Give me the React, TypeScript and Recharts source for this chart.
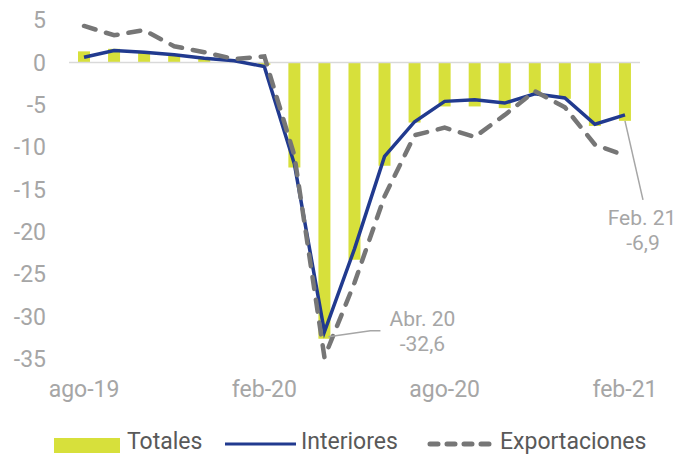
import {
    ComposedChart,
    Bar,
    Line,
    XAxis,
    YAxis,
    ReferenceLine,
    ReferenceDot,
} from "recharts";

const meses = [
    "ago-19", "sep-19", "oct-19", "nov-19", "dic-19", "ene-20", "feb-20",
    "mar-20", "abr-20", "may-20", "jun-20", "jul-20", "ago-20", "sep-20",
    "oct-20", "nov-20", "dic-20", "ene-21", "feb-21",
];
const totales = [1.3, 1.6, 1.2, 0.9, 0.5, 0.1, -0.3, -12.4, -32.6, -23.3, -12.2, -7.1, -5.2, -5.2, -5.4, -3.6, -4.3, -7.5, -6.9];
const interiores = [0.6, 1.4, 1.2, 0.9, 0.5, 0.2, -0.5, -12.0, -31.8, -22.0, -11.1, -7.0, -4.6, -4.4, -4.8, -3.7, -4.2, -7.3, -6.2];
const exportaciones = [4.3, 3.2, 3.8, 1.9, 1.2, 0.4, 0.7, -11.0, -34.8, -26.0, -15.8, -8.6, -7.7, -8.8, -6.2, -3.4, -5.3, -9.7, -11.0];
const yTicks = [5, 0, -5, -10, -15, -20, -25, -30, -35];

const data = meses.map((mes, i) => ({
    mes,
    totales: totales[i],
    interiores: interiores[i],
    exportaciones: exportaciones[i],
}));

const GRIS = "#a6a6a6";
const AMARILLO = "#d7e03b";
const AZUL = "#213a8f";
const GRIS_OSC = "#767676";
const FONT = "Roboto, sans-serif";

// anotación de abril 2020: texto a la derecha del mínimo
const NotaAbr = (props: any) => {
    const { cx, cy } = props;
    return (
        <g>
            <polyline
                points={`${cx + 4},${cy - 2} ${cx + 46},${cy - 8} ${cx + 56},${cy - 8}`}
                fill="none"
                stroke={GRIS}
                strokeWidth={1.5}
            />
            <text x={cx + 98} y={cy - 20} dy="0.35em" textAnchor="middle" fill={GRIS} fontSize={21} fontFamily={FONT}>
                Abr. 20
            </text>
            <text x={cx + 98} y={cy + 5} dy="0.35em" textAnchor="middle" fill={GRIS} fontSize={21} fontFamily={FONT}>
                -32,6
            </text>
        </g>
    );
};

// anotación de febrero 2021: texto debajo de la barra
const NotaFeb = (props: any) => {
    const { cx, cy } = props;
    return (
        <g>
            <line x1={cx} y1={cy} x2={cx + 18} y2={cy + 79} stroke={GRIS} strokeWidth={1.5} />
            <text x={cx + 17} y={cy + 97} dy="0.35em" textAnchor="middle" fill={GRIS} fontSize={21} fontFamily={FONT}>
                Feb. 21
            </text>
            <text x={cx + 18} y={cy + 122} dy="0.35em" textAnchor="middle" fill={GRIS} fontSize={21} fontFamily={FONT}>
                -6,9
            </text>
        </g>
    );
};

export default function App() {
    return (
        <div style={{ position: "absolute", left: 0, top: 0, width: 677, height: 455, fontFamily: FONT }}>
            <ComposedChart
                width={677}
                height={455}
                data={data}
                margin={{ top: 20, right: 37, left: 0, bottom: 56 }}
            >
                <XAxis
                    dataKey="mes"
                    interval={5}
                    axisLine={false}
                    tickLine={false}
                    tickSize={0}
                    tickMargin={22}
                    height={40}
                    tick={{ fill: GRIS, fontSize: 23, fontFamily: FONT }}
                />
                <YAxis
                    domain={[-35, 5]}
                    ticks={yTicks}
                    axisLine={false}
                    tickLine={false}
                    tickSize={0}
                    tickMargin={23}
                    width={69}
                    tick={{ fill: GRIS, fontSize: 23, fontFamily: FONT }}
                />
                <ReferenceLine y={0} stroke="#d9d9d9" strokeWidth={1.5} />
                <Bar dataKey="totales" fill={AMARILLO} barSize={12} isAnimationActive={false} />
                <Line
                    dataKey="interiores"
                    stroke={AZUL}
                    strokeWidth={3.5}
                    dot={false}
                    type="linear"
                    isAnimationActive={false}
                />
                <Line
                    dataKey="exportaciones"
                    stroke={GRIS_OSC}
                    strokeWidth={4.5}
                    strokeDasharray="12 11"
                    strokeLinecap="round"
                    dot={false}
                    type="linear"
                    isAnimationActive={false}
                />
                <ReferenceDot x={meses[8]} y={totales[8]} r={0} shape={NotaAbr} />
                <ReferenceDot x={meses[18]} y={totales[18]} r={0} shape={NotaFeb} />
            </ComposedChart>

            {/* Leyenda */}
            <div style={{ position: "absolute", left: 0, top: 425, width: 677, height: 30 }}>
                <svg width={677} height={30} style={{ position: "absolute", left: 0, top: 0 }}>
                    <rect x={54} y={13} width={66} height={15} fill={AMARILLO} />
                    <line x1={225} y1={19} x2={296} y2={19} stroke={AZUL} strokeWidth={3} />
                    <line x1={430} y1={19} x2={494} y2={19} stroke={GRIS_OSC} strokeWidth={5} strokeDasharray="8 9" strokeLinecap="round" />
                    <text x={127} y={24} fill="#595959" fontSize={23} fontFamily={FONT}>Totales</text>
                    <text x={301} y={24} fill="#595959" fontSize={23} fontFamily={FONT}>Interiores</text>
                    <text x={500} y={24} fill="#595959" fontSize={23} fontFamily={FONT}>Exportaciones</text>
                </svg>
            </div>
        </div>
    );
}
